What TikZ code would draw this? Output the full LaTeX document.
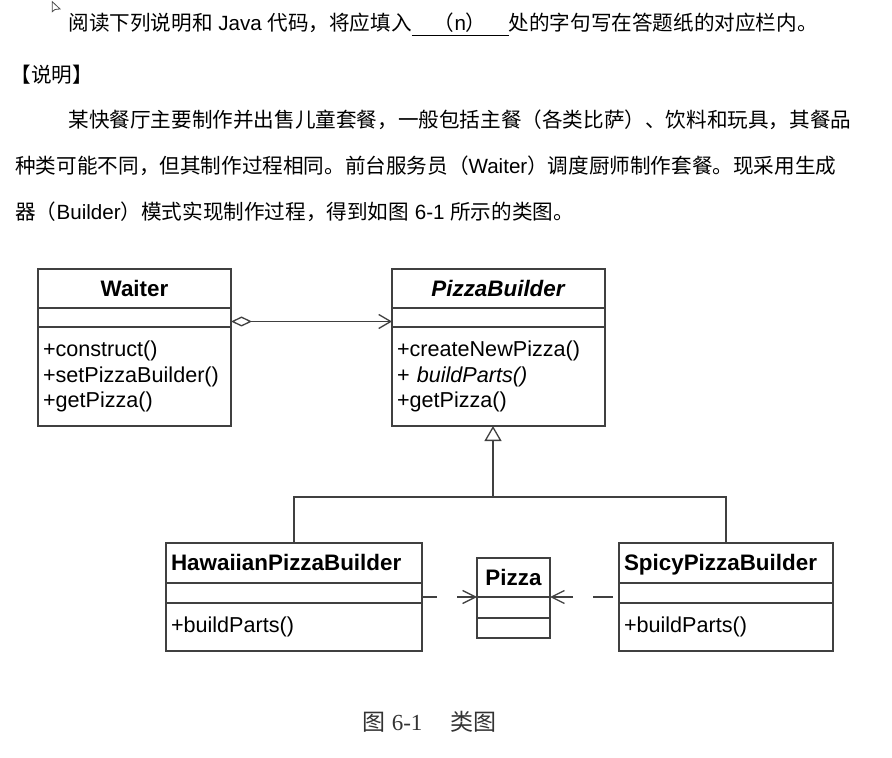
\documentclass[tikz,border=0pt]{standalone}
\usepackage{fontspec}
\setmainfont{Liberation Sans}
\newfontfamily\cjk{Noto Sans CJK SC}
\newfontfamily\capserif{Liberation Serif}
\usetikzlibrary{arrows.meta,positioning}

\tikzset{
  para/.style={anchor=west, inner sep=0pt, font=\fontsize{10.3}{12}\selectfont},
  cls/.style={draw=black!75, line width=0.65pt, outer sep=0pt, inner sep=0pt, inner xsep=2.5pt},
  clsname/.style={cls, font=\bfseries\fontsize{11.2}{12}\selectfont, text height=8.2pt, text depth=0.3pt},
  clsops/.style={cls, font=\fontsize{10.8}{12.75}\selectfont, align=left},
  uml/.style={draw=black!75, line width=0.65pt},
}

\begin{document}
\begin{tikzpicture}[x=0.5pt, y=-0.5pt]
\useasboundingbox[fill=white] (0,0) rectangle (892,758);

% cursor
\draw[black!70, line width=0.4pt] (52.3,1.7) -- (52.3,11.7) -- (55,9.5) -- (60,9) -- cycle;

% question text
\node[para] (t1) at (68,25) {{\cjk 阅读下列说明和} Java {\cjk 代码，将应填入}\underline{\makebox[48.5pt]{{\cjk （}n{\cjk ）}}}{\cjk 处的字句写在答题纸的对应栏内。}};
\node[para] (t2) at (10,75) {\cjk 【说明】};
\node[para] (t3) at (68,120) {\cjk 某快餐厅主要制作并出售儿童套餐，一般包括主餐（各类比萨）、饮料和玩具，其餐品};
\node[para] (t4) at (15,166) {{\cjk 种类可能不同，但其制作过程相同。前台服务员（}Waiter{\cjk ）调度厨师制作套餐。现采用生成}};
\node[para] (t5) at (15,212) {{\cjk 器（}Builder{\cjk ）模式实现制作过程，得到如图} 6-1 {\cjk 所示的类图。}};

% Waiter
\node[clsname, anchor=north west, minimum width=96.5pt, minimum height=19.5pt] (waiter) at (38,269) {Waiter};
\node[cls, below=0pt of waiter, minimum width=96.5pt, minimum height=9.5pt] (waiterattr) {};
\node[clsops, below=0pt of waiterattr, minimum width=96.5pt, minimum height=49.5pt, text width=91.5pt] (waiterops) {+construct()\\+setPizzaBuilder()\\+getPizza()};

% PizzaBuilder
\node[clsname, anchor=north west, minimum width=106.5pt, minimum height=19.5pt] (builder) at (392,269) {\textit{PizzaBuilder}};
\node[cls, below=0pt of builder, minimum width=106.5pt, minimum height=9.5pt] (builderattr) {};
\node[clsops, below=0pt of builderattr, minimum width=106.5pt, minimum height=49.5pt, text width=101.5pt] (builderops) {+createNewPizza()\\+ \textit{buildParts()}\\+getPizza()};

% HawaiianPizzaBuilder
\node[clsname, anchor=north west, minimum width=128pt, minimum height=20pt, align=left, text width=123pt] (hawaiian) at (166,543) {HawaiianPizzaBuilder};
\node[cls, below=0pt of hawaiian, minimum width=128pt, minimum height=10pt] (hawaiianattr) {};
\node[clsops, below=0pt of hawaiianattr, minimum width=128pt, minimum height=24pt, text width=123pt] (hawaiianops) {+buildParts()};

% Pizza
\node[clsname, anchor=north west, minimum width=36.5pt, minimum height=19.5pt] (pizza) at (477,558) {Pizza};
\node[cls, below=0pt of pizza, minimum width=36.5pt, minimum height=10.5pt] (pizzaattr) {};
\node[cls, below=0pt of pizzaattr, minimum width=36.5pt, minimum height=10pt] (pizzaops) {};

% SpicyPizzaBuilder
\node[clsname, anchor=north west, minimum width=107pt, minimum height=20pt, align=left, text width=102pt] (spicy) at (619,543) {SpicyPizzaBuilder};
\node[cls, below=0pt of spicy, minimum width=107pt, minimum height=10pt] (spicyattr) {};
\node[clsops, below=0pt of spicyattr, minimum width=107pt, minimum height=24pt, text width=102pt] (spicyops) {+buildParts()};

% aggregation
\draw[uml, {Diamond[open,length=10.5pt,width=5pt]}-{Straight Barb[length=6pt,width=7pt]}] ([yshift=-2pt]waiterattr.east) -- ([yshift=-2pt]builderattr.west);

% generalization
\coordinate (split) at (493,497);
\draw[uml, -{Triangle[open,length=7.5pt,width=8.5pt]}] (split) -- (split |- builderops.south);
\draw[uml] (hawaiian.north) |- (split) -| (spicy.north);

% dependencies
\draw[uml, dash pattern=on 7.5pt off 10pt on 12pt, -{Straight Barb[length=6.5pt,width=6.5pt]}] (hawaiianattr.east |- pizza.south) -- (pizza.south west);
\draw[uml, dash pattern=on 0pt off 3pt on 10pt off 10pt on 12pt, -{Straight Barb[length=6.5pt,width=6.5pt]}] (spicyattr.west |- pizza.south) -- (pizza.south east);

% caption
\node[anchor=west, inner sep=0pt, font=\fontsize{11.5}{12}\selectfont, text=black!80] (cap) at (362,722) {{\cjk 图} {\capserif 6-1}\hspace{14pt}{\cjk 类图}};
\end{tikzpicture}
\end{document}
